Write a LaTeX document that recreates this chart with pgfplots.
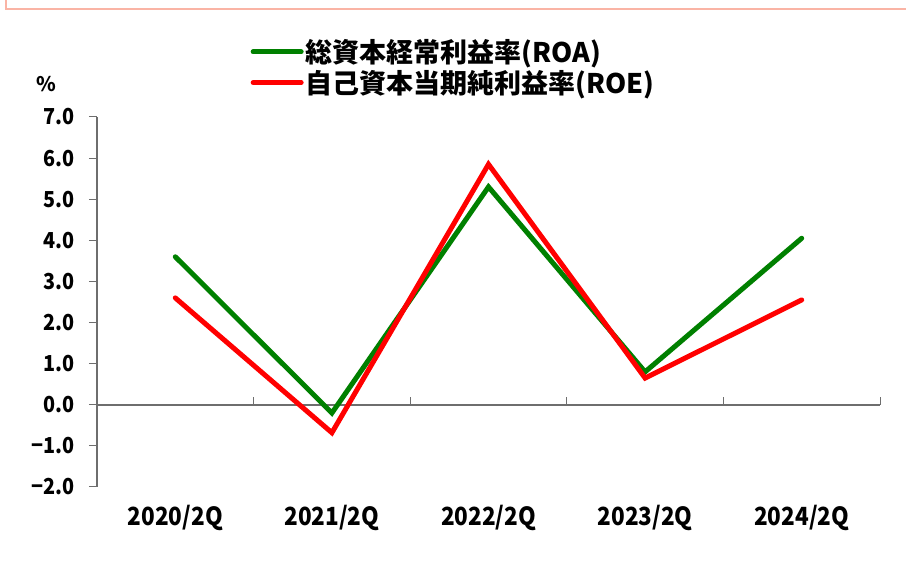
\documentclass[border=0pt]{standalone}
\usepackage{fontspec}
\setmainfont{Noto Sans CJK JP}
\newfontfamily\catfont[FakeStretch=0.9]{Noto Sans CJK JP}
\usepackage{pgfplots}
\pgfplotsset{compat=1.18}
\definecolor{roa}{RGB}{0,128,0}
\definecolor{roe}{RGB}{255,0,0}
\definecolor{axisgray}{RGB}{110,110,110}
\definecolor{framecol}{RGB}{250,180,165}
\begin{document}
\begin{tikzpicture}[x=1pt,y=1pt]
\path[use as bounding box] (0,0) rectangle (906,567);
\draw[framecol, line width=1.5pt] (6,567) -- (6,558) -- (906,558);
\node[font=\bfseries\fontsize{20}{24}\selectfont] at (46,483) {\%};
\begin{axis}[
  at={(97pt,80pt)}, anchor=south west,
  width=783pt, height=370pt, scale only axis,
  xmin=-0.5, xmax=4.5, ymin=-2, ymax=7,
  axis y line*=left, axis x line*=middle,
  axis line style={axisgray, line width=1.5pt, -},
  xtick={0.5,1.5,2.5,3.5,4.5}, xticklabels={},
  ytick={-2,-1,0,1,2,3,4,5,6,7},
  yticklabels={−2.0,−1.0,0.0,1.0,2.0,3.0,4.0,5.0,6.0,7.0},
  tick align=center, major tick length=8pt,
  xtick style={axisgray, line width=1pt, yshift=4pt},
  ytick style={axisgray, line width=1pt, xshift=-4pt},
  yticklabel style={font=\catfont\bfseries\fontsize{22}{25}\selectfont, xshift=-15pt},
  legend style={at={(0.196,1.215)}, anchor=north west, draw=none, fill=none,
    font=\bfseries\fontsize{27}{31}\selectfont, row sep=2pt, inner sep=0pt},
  legend cell align=left,
  legend image code/.code={\draw[#1, line cap=round] (0pt,0pt) -- (48pt,0pt);},
]
\addplot[roa, line width=5pt, line cap=round] coordinates {(0,3.6) (1,-0.2) (2,5.3) (3,0.8) (4,4.05)};
\addlegendentry{総資本経常利益率(ROA)}
\addplot[roe, line width=5pt, line cap=round] coordinates {(0,2.6) (1,-0.68) (2,5.85) (3,0.65) (4,2.55)};
\addlegendentry{自己資本当期純利益率(ROE)}
\end{axis}
\begin{axis}[
  at={(97pt,80pt)}, anchor=south west,
  width=783pt, height=370pt, scale only axis,
  xmin=-0.5, xmax=4.5, ymin=-2, ymax=7,
  axis x line*=bottom, axis y line=none,
  axis line style={draw=none},
  xtick={0,1,2,3,4},
  xticklabels={2020/2Q,2021/2Q,2022/2Q,2023/2Q,2024/2Q},
  ytick=\empty, major tick length=0pt, tick style={draw=none},
  xticklabel style={font=\catfont\bfseries\fontsize{25}{30}\selectfont, yshift=-15pt},
]
\end{axis}
\end{tikzpicture}
\end{document}
